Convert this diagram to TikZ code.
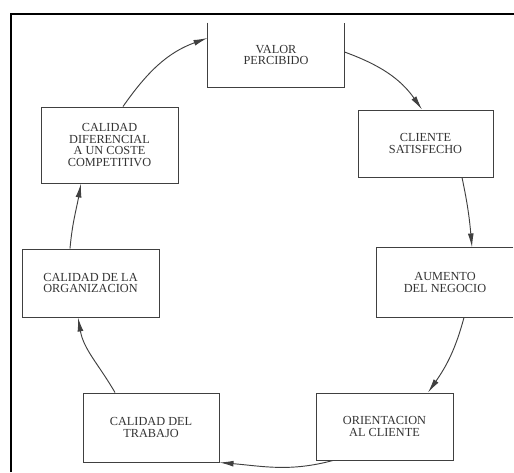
\documentclass[tikz,border=0pt]{standalone}
\usepackage{fontspec}
\setmainfont{Liberation Serif}
\usetikzlibrary{arrows.meta}
\tikzset{
  caja/.style={draw=black!75, line width=0.8pt, align=center, inner sep=2pt,
    font=\fontsize{10.5}{10}\selectfont, text=black!80},
  abierta/.style={caja, draw=none},
  borde/.style={draw=black!75, line width=0.8pt},
  flecha/.style={draw=black!75, line width=0.8pt, -{Latex[length=12pt,width=5pt]}},
}
\begin{document}
\begin{tikzpicture}[x=0.03cm, y=0.03cm]
  \useasboundingbox (0,0) rectangle (514,472);
  \draw[line width=1.6pt] (11,0) -- (11,458) -- (514,458);

  \node[abierta, minimum width=4.08cm, minimum height=1.92cm] (valor) at (276,417) {VALOR\\PERCIBIDO};
  \draw[borde] (valor.north west) -- (valor.south west) -- (valor.south east) -- (valor.north east);
  \node[caja, minimum width=4.11cm, minimum height=2.28cm] (calidif) at (109.5,327) {CALIDAD\\DIFERENCIAL\\A UN COSTE\\COMPETITIVO};
  \node[caja, minimum width=4.05cm, minimum height=2.01cm] (cliente) at (425.5,328.5) {CLIENTE\\SATISFECHO};
  %%%%%%%%%%%%%%%%%%%%%
  \node[caja, minimum width=4.11cm, minimum height=2.04cm] (caliorg) at (90.5,189) {CALIDAD DE LA\\ORGANIZACION};
  \node[abierta, minimum width=4.08cm, minimum height=2.07cm] (aumento) at (445,189.5) {AUMENTO\\DEL NEGOCIO};
  \draw[borde] (aumento.north east) -- (aumento.north west) -- (aumento.south west) -- (aumento.south east);
  %%%%%%%%%%%%%%%%%%%%%
  \node[caja, minimum width=4.08cm, minimum height=2.07cm] (calitrab) at (151,44.5) {CALIDAD DEL\\TRABAJO};
  \node[caja, minimum width=4.11cm, minimum height=2.01cm] (orient) at (384.5,45.5) {ORIENTACION\\AL CLIENTE};
  %
  \draw[flecha] (123,0 |- calidif.north) to[out=55,in=200] (valor.west |- 0,434);
  \draw[flecha] (valor.east |- 0,420) to[out=-20,in=125] (422,0 |- cliente.north);
  \draw[flecha] (462,0 |- cliente.south) to[out=-78,in=95] (472,0 |- aumento.north);
  \draw[flecha] (464,0 |- aumento.south) to[out=-105,in=55] (428,0 |- orient.north);
  \draw[flecha] (333,0 |- orient.south) to[out=-165,in=-5] (calitrab.south east);
  \draw[flecha] (115,0 |- calitrab.north) to[out=120,in=-80] (78,0 |- caliorg.south);
  \draw[flecha] (70,0 |- caliorg.north) to[out=85,in=-100] (81,0 |- calidif.south);
\end{tikzpicture}
\end{document}
